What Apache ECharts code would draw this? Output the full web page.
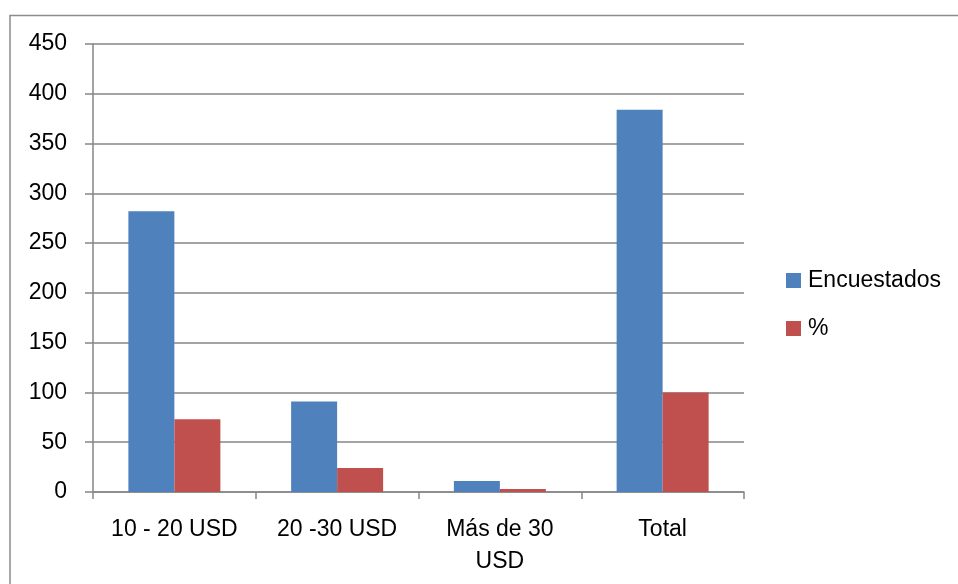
<!DOCTYPE html>
<html>
<head>
<meta charset="utf-8">
<script src="https://cdn.jsdelivr.net/npm/echarts@6/dist/echarts.min.js"></script>
<style>html,body{margin:0;padding:0;background:#fff;}#c{width:958px;height:584px;}</style>
</head>
<body>
<div id="c"></div>
<script>
const categories = ['10 - 20 USD', '20 -30 USD', 'Más de 30\nUSD', 'Total'];
const encuestados = [282, 91, 11, 384];
const porcentaje = [73, 24, 3, 100];
const yTicks = [0, 50, 100, 150, 200, 250, 300, 350, 400, 450];

const chart = echarts.init(document.getElementById('c'));
const font = 'Liberation Sans';
const gray = '#868686';
chart.setOption({
  animation: false,
  backgroundColor: '#fff',
  graphic: [{
    type: 'rect',
    shape: { x: 10, y: 15.5, width: 1000, height: 700 },
    style: { fill: 'none', stroke: '#8c8c8c', lineWidth: 1.5 },
    silent: true
  }],
  grid: { left: 93, right: 214, top: 44, bottom: 92 },
  legend: {
    orient: 'vertical',
    left: 786,
    top: 269,
    padding: 0,
    itemWidth: 15,
    itemHeight: 15,
    itemGap: 25,
    icon: 'rect',
    textStyle: { fontFamily: font, fontSize: 23, color: '#000', padding: [0, 0, 0, 2] },
    data: ['Encuestados', '%']
  },
  xAxis: {
    type: 'category',
    data: categories,
    axisLine: { lineStyle: { color: gray, width: 1.5 } },
    axisTick: { show: true, interval: 0, length: 7, lineStyle: { color: gray, width: 1.5 } },
    axisLabel: { interval: 0, hideOverlap: false, fontFamily: font, fontSize: 23, color: '#000', margin: 22, lineHeight: 32 }
  },
  yAxis: {
    type: 'value',
    min: yTicks[0],
    max: yTicks[yTicks.length - 1],
    interval: 50,
    axisLine: { show: true, lineStyle: { color: gray, width: 1.5 } },
    axisTick: { show: true, length: 8, lineStyle: { color: gray, width: 1.5 } },
    splitLine: { lineStyle: { color: gray, width: 1.5 } },
    axisLabel: { fontFamily: font, fontSize: 23, color: '#000', margin: 26 }
  },
  series: [
    { name: 'Encuestados', type: 'bar', data: encuestados, barWidth: 46, barGap: '0%',
      itemStyle: { color: '#4F81BD' } },
    { name: '%', type: 'bar', data: porcentaje, barWidth: 46, barGap: '0%',
      itemStyle: { color: '#C0504D' } }
  ]
});
</script>
</body>
</html>
